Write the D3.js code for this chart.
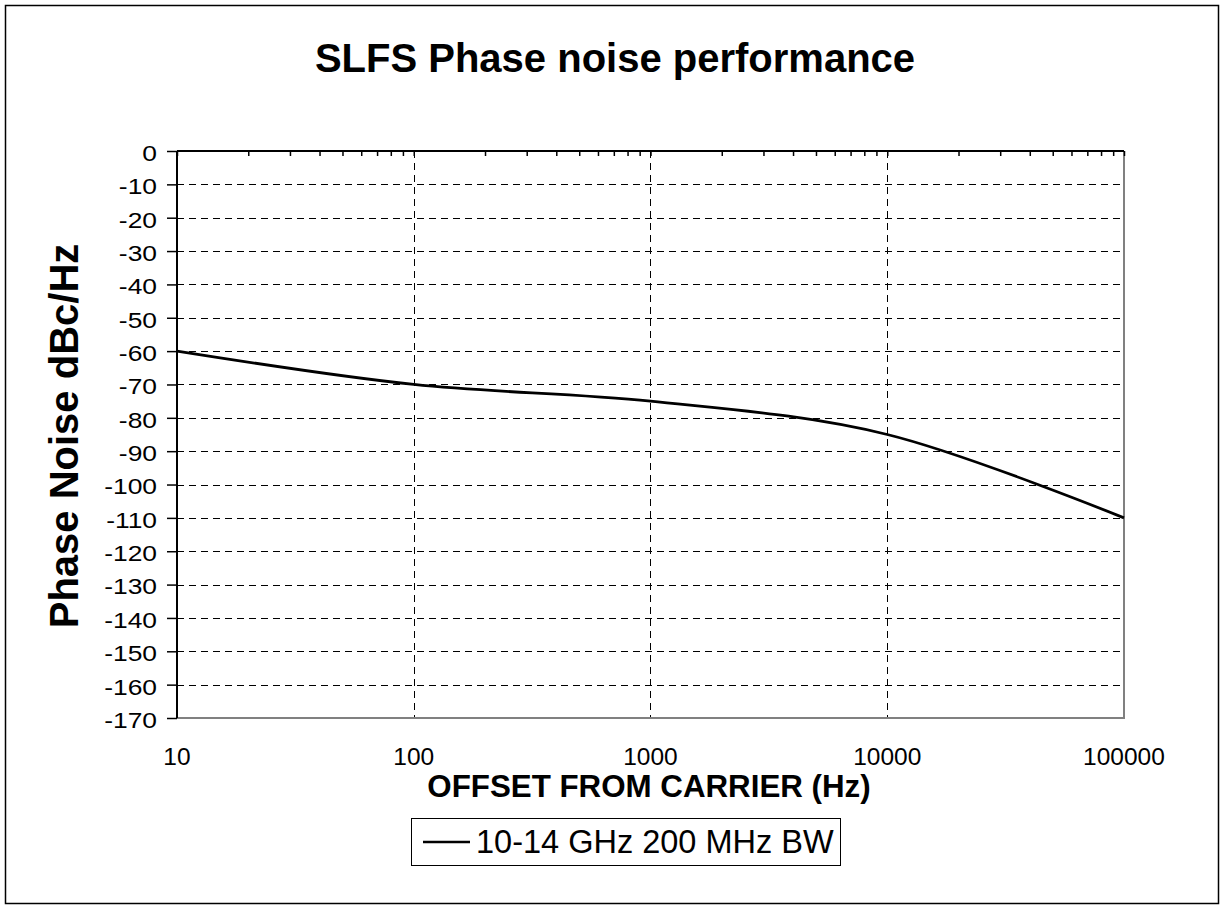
<!DOCTYPE html>
<html><head><meta charset="utf-8">
<script src="https://cdn.jsdelivr.net/npm/d3@7"></script>
<style>
body{margin:0;background:#fff}
svg{display:block}
text{font-family:Arial,"Liberation Sans",sans-serif;fill:#000}
</style>
</head><body>
<svg id="c" width="1225" height="905"></svg>
<script>
const chartTitle = "SLFS Phase noise performance";
const xAxisTitle = "OFFSET FROM CARRIER (Hz)";
const yAxisTitle = "Phase Noise dBc/Hz";
const seriesName = "10-14 GHz 200 MHz BW";
const offsetHz = [10, 100, 1000, 10000, 100000];
const noiseDbc = [-60, -70, -75, -85, -110];
const xTickValues = [10, 100, 1000, 10000, 100000];
const xTickLabels = ["10", "100", "1000", "10000", "100000"];
const yTickValues = [0, -10, -20, -30, -40, -50, -60, -70, -80, -90, -100, -110, -120, -130, -140, -150, -160, -170];
const yTickLabels = ["0", "-10", "-20", "-30", "-40", "-50", "-60", "-70", "-80", "-90", "-100", "-110", "-120", "-130", "-140", "-150", "-160", "-170"];

const svg = d3.select("#c");
const L = 177, R = 1124, T = 151, B = 718;
const x = d3.scaleLog().domain([10, 100000]).range([L, R]);
const y = d3.scaleLinear().domain([-170, 0]).range([B, T]);

// outer frame
svg.append("rect").attr("x", 5.5).attr("y", 5.5).attr("width", 1213).attr("height", 898)
  .attr("fill", "#fff").attr("stroke", "#000").attr("stroke-width", 1.5);

// title
svg.append("text").attr("x", 615).attr("y", 72).attr("text-anchor", "middle")
  .attr("font-size", 40).attr("font-weight", "bold").text(chartTitle);

// horizontal gridlines
svg.append("g").selectAll("line").data(yTickValues.filter(v => v < 0 && v > -170)).join("line")
  .attr("x1", L).attr("x2", R).attr("y1", d => Math.round(y(d)) + 0.5).attr("y2", d => Math.round(y(d)) + 0.5)
  .attr("stroke", "#000").attr("stroke-width", 1).attr("stroke-dasharray", "7,5");

// vertical gridlines
svg.append("g").selectAll("line").data(xTickValues.slice(1, -1)).join("line")
  .attr("x1", d => Math.round(x(d)) + 0.5).attr("x2", d => Math.round(x(d)) + 0.5)
  .attr("y1", T).attr("y2", B)
  .attr("stroke", "#000").attr("stroke-width", 1).attr("stroke-dasharray", "7,5");

// plot border right & bottom (gray)
svg.append("path").attr("d", `M${L},${B}H${R}V${T}`).attr("fill", "none")
  .attr("stroke", "#808080").attr("stroke-width", 2);

// top axis (x axis crossing at 0) with inward ticks
const xAxis = d3.axisBottom(x).ticks(10).tickSize(5).tickFormat("");
const gx = svg.append("g").attr("transform", `translate(0,${T})`).call(xAxis);
gx.select(".domain").attr("stroke", "#000").attr("stroke-width", 2).attr("d", `M${L},0H${R}`);
gx.selectAll(".tick line").attr("stroke", "#000").attr("stroke-width", 1.5);

// left axis
const yAxis = d3.axisLeft(y).tickValues(yTickValues).tickSize(10).tickFormat("");
const gy = svg.append("g").attr("transform", `translate(${L},0)`).call(yAxis);
gy.select(".domain").attr("stroke", "#000").attr("stroke-width", 2).attr("d", `M0,${T}V${B}`);
gy.selectAll(".tick line").attr("stroke", "#000").attr("stroke-width", 1.5);

// y tick labels (slightly wide glyphs as in the reference)
svg.append("g").selectAll("text").data(yTickValues).join("text")
  .attr("transform", d => `translate(157,${y(d)}) scale(1.2,1)`)
  .attr("dy", "0.45em").attr("text-anchor", "end")
  .attr("font-size", 22).text((d, i) => yTickLabels[i]);

// x tick labels (at bottom)
svg.append("g").selectAll("text").data(xTickValues).join("text")
  .attr("x", d => x(d)).attr("y", 765).attr("text-anchor", "middle")
  .attr("font-size", 24.5).text((d, i) => xTickLabels[i]);

// axis titles
svg.append("text").attr("x", 649).attr("y", 797).attr("text-anchor", "middle")
  .attr("font-size", 31.3).attr("font-weight", "bold").text(xAxisTitle);
svg.append("text").attr("transform", "translate(78,436) rotate(-90)").attr("text-anchor", "middle")
  .attr("font-size", 40).attr("font-weight", "bold").text(yAxisTitle);

// series line
const data = offsetHz.map((v, i) => [v, noiseDbc[i]]);
const line = d3.line().x(d => x(d[0])).y(d => y(d[1])).curve(d3.curveCatmullRom.alpha(0));
svg.append("path").datum(data).attr("d", line).attr("fill", "none")
  .attr("stroke", "#000").attr("stroke-width", 2.8);

// legend
const lg = svg.append("g");
lg.append("rect").attr("x", 411.5).attr("y", 818.5).attr("width", 429).attr("height", 47)
  .attr("fill", "#fff").attr("stroke", "#000").attr("stroke-width", 1);
lg.append("line").attr("x1", 423).attr("x2", 470).attr("y1", 842).attr("y2", 842)
  .attr("stroke", "#000").attr("stroke-width", 2.5);
lg.append("text").attr("x", 476).attr("y", 853).attr("font-size", 32.5).text(seriesName);
</script>
</body></html>
